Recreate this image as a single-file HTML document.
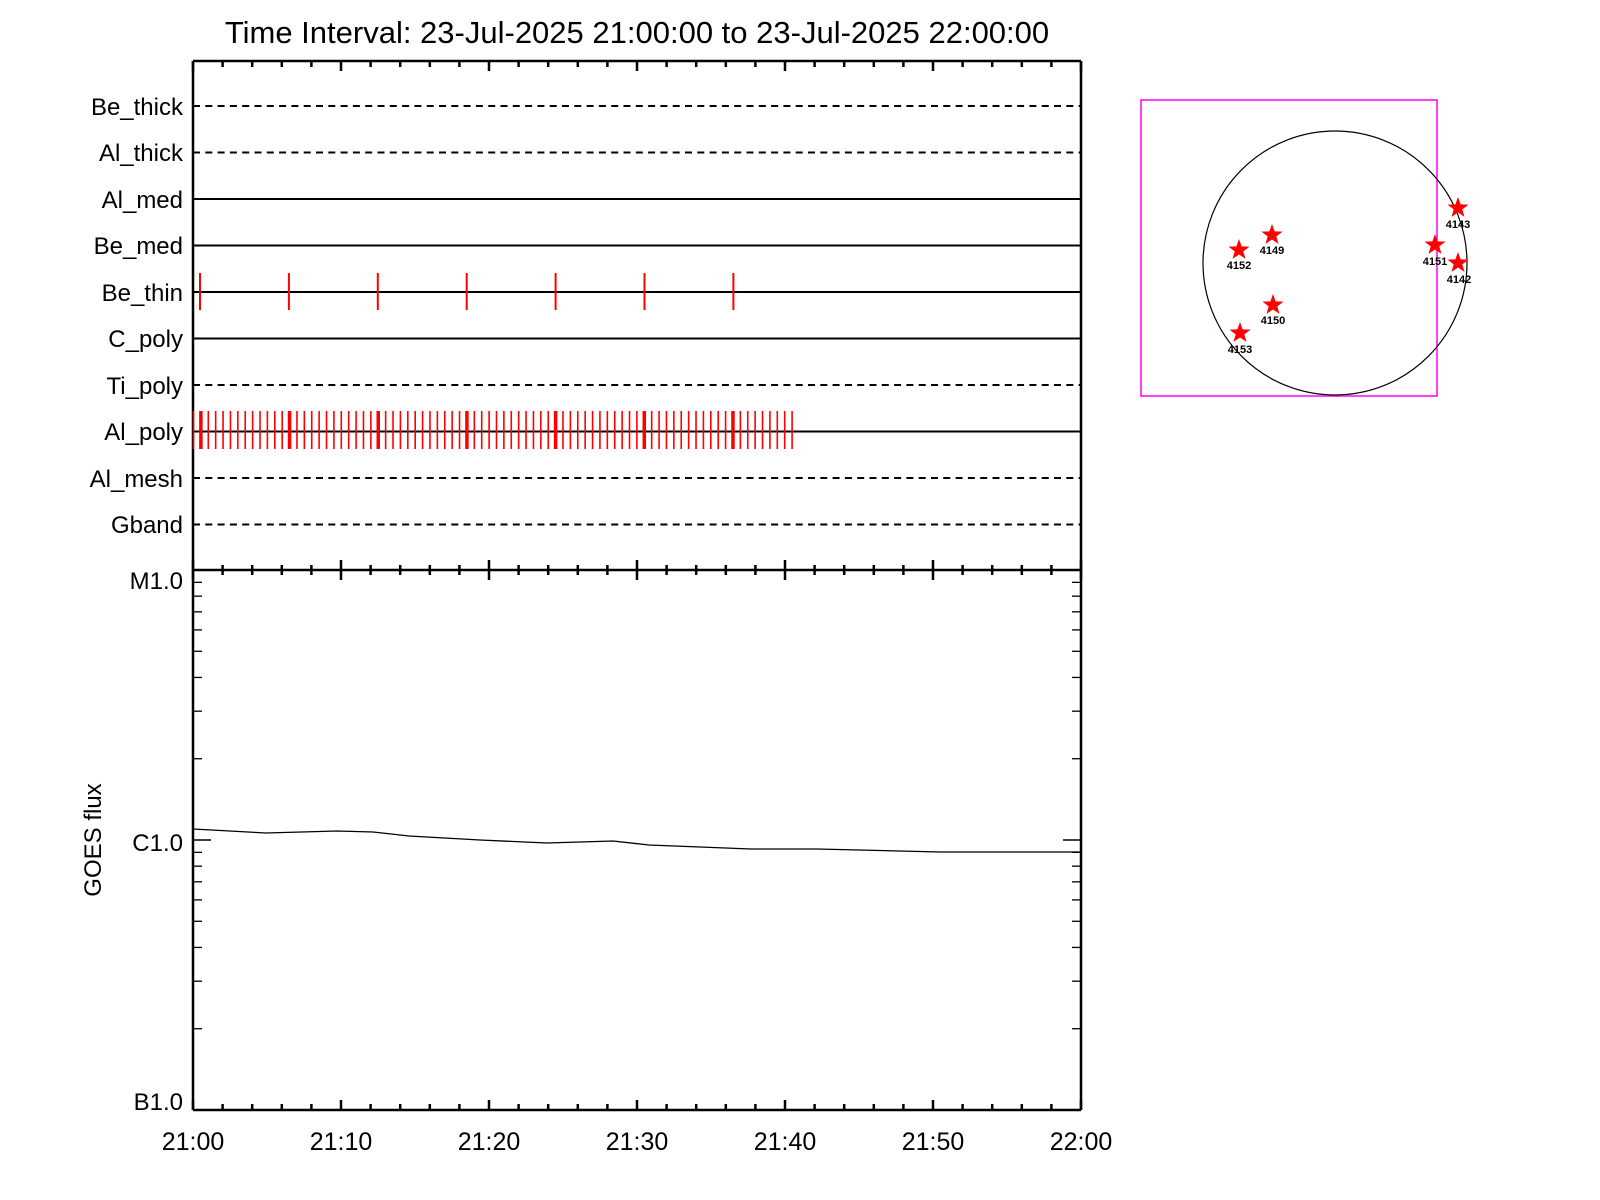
<!DOCTYPE html>
<html><head><meta charset="utf-8"><style>
html,body{margin:0;padding:0;background:#fff;}
svg{display:block;}
text{font-family:"Liberation Sans",sans-serif;fill:#000;}
</style></head><body>
<svg id="s" width="1600" height="1200" viewBox="0 0 1600 1200" xmlns="http://www.w3.org/2000/svg">
<text x="637" y="43" font-size="31" text-anchor="middle">Time Interval: 23-Jul-2025 21:00:00 to 23-Jul-2025 22:00:00</text>
<g font-size="24" text-anchor="end">
<text x="183" y="115">Be_thick</text>
<text x="183" y="161">Al_thick</text>
<text x="183" y="208">Al_med</text>
<text x="183" y="254">Be_med</text>
<text x="183" y="301">Be_thin</text>
<text x="183" y="347">C_poly</text>
<text x="183" y="394">Ti_poly</text>
<text x="183" y="440">Al_poly</text>
<text x="183" y="487">Al_mesh</text>
<text x="183" y="533">Gband</text>
<text x="183" y="589">M1.0</text>
<text x="183" y="851">C1.0</text>
<text x="183" y="1110">B1.0</text>
</g>
<g font-size="25" text-anchor="middle">
<text x="193" y="1150">21:00</text>
<text x="341" y="1150">21:10</text>
<text x="489" y="1150">21:20</text>
<text x="637" y="1150">21:30</text>
<text x="785" y="1150">21:40</text>
<text x="933" y="1150">21:50</text>
<text x="1081" y="1150">22:00</text>
</g>
<text transform="translate(101,840) rotate(-90)" font-size="24" text-anchor="middle">GOES flux</text>
<g id="g" stroke="#000" fill="none"></g>
<rect x="1141" y="100" width="296" height="296" fill="none" stroke="#ff00ff" stroke-width="1.5"/>
<circle cx="1335" cy="263" r="132" fill="none" stroke="#000" stroke-width="1.2"/>
<g id="st" fill="#ff0000"></g>
<g font-size="11" font-weight="bold" text-anchor="middle">
<text x="1272" y="254">4149</text>
<text x="1239" y="269">4152</text>
<text x="1273" y="324">4150</text>
<text x="1240" y="353">4153</text>
<text x="1435" y="265">4151</text>
<text x="1458" y="228">4143</text>
<text x="1459" y="283">4142</text>
</g>
</svg>
<script>
var g=document.getElementById('g'),ns='http://www.w3.org/2000/svg';
function L(x1,y1,x2,y2,w,c,d){var e=document.createElementNS(ns,'line');e.setAttribute('x1',x1);e.setAttribute('y1',y1);e.setAttribute('x2',x2);e.setAttribute('y2',y2);e.setAttribute('stroke-width',w);if(c)e.setAttribute('stroke',c);if(d)e.setAttribute('stroke-dasharray',d);g.appendChild(e);}
var X0=193,X1=1081,Y0=61,YM=570,YB=1110;
L(X0,Y0,X1,Y0,2.5);L(X0,YM,X1,YM,2.5);L(X0,YB,X1,YB,2.5);
L(X0,Y0,X0,YB,2.5);L(X1,Y0,X1,YB,2.5);
for(var i=0;i<=30;i++){var x=X0+i*888/30,maj=(i%5==0);
 L(x,Y0,x,Y0+(maj?10:6),2.5);
 L(x,YM-(maj?10:5),x,YM+(maj?10:5),2.5);
 L(x,YB,x,YB-(maj?10:6),2.5);}
var rows=[106,152.5,199,245.5,292,338.5,385,431.5,478,524.5];
var dashed=[1,1,0,0,0,0,1,0,1,1];
for(var r=0;r<10;r++){L(X0,rows[r],X1,rows[r],2,null,dashed[r]?'7 5.3':null);}
for(var i=0;i<7;i++){var x=200+i*88.9;L(x,273,x,310,2,'#ff0000');}
for(var k=0;k<=81;k++){var x=193.5+7.39*k;L(x,411,x,449,(k%12==1)?3.5:1.6,'#ff0000');}
var dec=[[570,840],[840,1110]];
dec.forEach(function(d){var top=d[0],bot=d[1];for(var m=2;m<=9;m++){var y=bot-Math.log10(m)*(bot-top);L(X0,y,X0+9,y,1.3);L(X1,y,X1-9,y,1.3);}});
L(X0,840,X0+18,840,1.5);L(X1,840,X1-18,840,1.5);
var pts=[[193,829],[266,833],[337,831],[373,832],[409,836],[480,840],[547,843],[613,841],[649,845],[751,849],[817,849],[940,852],[1081,852]];
var p=document.createElementNS(ns,'polyline');p.setAttribute('points',pts.map(function(a){return a.join(',')}).join(' '));p.setAttribute('stroke-width','1.3');g.appendChild(p);
var st=document.getElementById('st');
[[1272,235],[1239,250],[1273,305],[1240,333],[1435,245],[1458,208],[1458,263]].forEach(function(c){
 var s='';for(var i=0;i<10;i++){var a=-Math.PI/2+i*Math.PI/5,r=(i%2)?4.5:11;s+=(c[0]+r*Math.cos(a)).toFixed(1)+','+(c[1]+r*Math.sin(a)).toFixed(1)+' ';}
 var e=document.createElementNS(ns,'polygon');e.setAttribute('points',s);st.appendChild(e);});
</script>
</body></html>
